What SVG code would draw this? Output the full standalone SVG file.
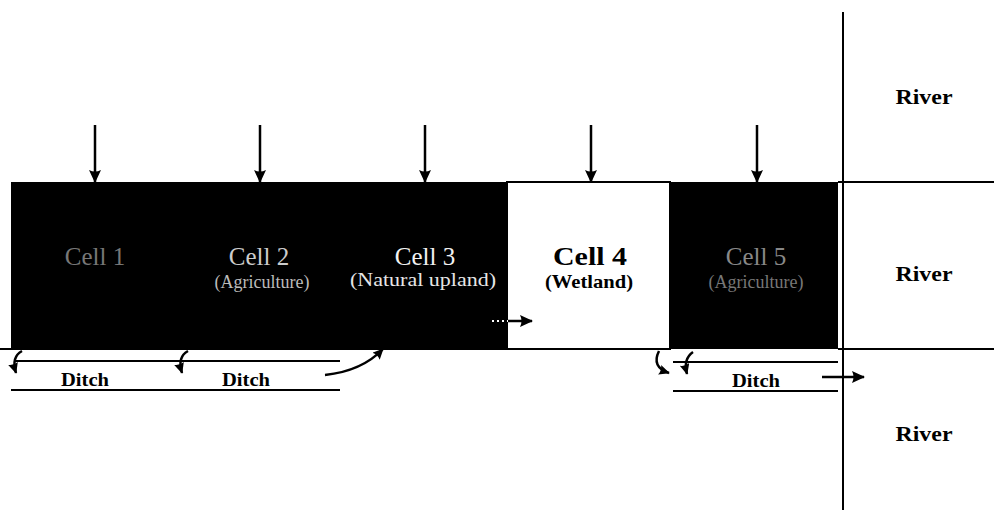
<svg xmlns="http://www.w3.org/2000/svg" width="994" height="513" viewBox="0 0 994 513">
<defs>
<marker id="ah" viewBox="0 0 13 12" refX="12" refY="6" markerWidth="13" markerHeight="12" markerUnits="userSpaceOnUse" orient="auto"><path d="M0,0 L13,6 L0,12 Q3,6 0,0 Z" fill="#000"/></marker>
<marker id="as" viewBox="0 0 13 12" refX="12" refY="6" markerWidth="11" markerHeight="10" markerUnits="userSpaceOnUse" orient="auto"><path d="M0,0 L13,6 L0,12 Q3,6 0,0 Z" fill="#000"/></marker>
</defs>
<style>
.lbl{font-family:"Liberation Serif",serif;text-anchor:middle}
.b{font-weight:bold}
.ln{stroke:#000;stroke-width:2;fill:none}
.ar{stroke:#000;stroke-width:2.5;fill:none;marker-end:url(#ah)}
.cr{stroke:#000;stroke-width:2.5;fill:none;marker-end:url(#as)}
.ct{font-size:25px}
.st{font-size:18px}
</style>
<rect width="994" height="513" fill="#fff"/>
<g id="cell1"><rect x="11" y="182" width="166" height="167" fill="#000"/><text class="lbl ct" x="95" y="265" fill="#777">Cell 1</text></g>
<g id="cell2"><rect x="176" y="182" width="167" height="167" fill="#000"/><text class="lbl ct" x="259" y="265" fill="#ccc">Cell 2</text><text class="lbl st" x="262" y="288" fill="#bbb" textLength="95" lengthAdjust="spacingAndGlyphs">(Agriculture)</text></g>
<g id="cell3"><rect x="342" y="182" width="166" height="167" fill="#000"/><text class="lbl ct" x="425" y="265" fill="#f2f2f2">Cell 3</text><text class="lbl st" x="423" y="286" fill="#e6e6e6" textLength="146" lengthAdjust="spacingAndGlyphs">(Natural upland)</text></g>
<g id="cell4"><rect x="507" y="182" width="163" height="167" fill="#fff" stroke="#000" stroke-width="2"/><text class="lbl b" x="590" y="265" font-size="25" textLength="74" lengthAdjust="spacingAndGlyphs">Cell 4</text><text class="lbl b" x="589" y="288" font-size="19" textLength="88" lengthAdjust="spacingAndGlyphs">(Wetland)</text></g>
<g id="cell5"><rect x="670" y="182" width="168" height="167" fill="#000"/><text class="lbl ct" x="756" y="265" fill="#888">Cell 5</text><text class="lbl st" x="756" y="288" fill="#777" textLength="95" lengthAdjust="spacingAndGlyphs">(Agriculture)</text></g>
<g id="river"><text class="lbl b" x="924" y="104" font-size="22" textLength="57" lengthAdjust="spacingAndGlyphs">River</text><text class="lbl b" x="924" y="281" font-size="22" textLength="57" lengthAdjust="spacingAndGlyphs">River</text><text class="lbl b" x="924" y="441" font-size="22" textLength="57" lengthAdjust="spacingAndGlyphs">River</text></g>
<g id="ditches"><text class="lbl b" x="85" y="386" font-size="18" textLength="48" lengthAdjust="spacingAndGlyphs">Ditch</text><text class="lbl b" x="246" y="386" font-size="18" textLength="48" lengthAdjust="spacingAndGlyphs">Ditch</text><text class="lbl b" x="756" y="387" font-size="18" textLength="48" lengthAdjust="spacingAndGlyphs">Ditch</text></g>
<g id="connectors">
<line class="ln" x1="843" y1="12" x2="843" y2="510" stroke-width="3"/>
<line class="ln" x1="838" y1="182" x2="994" y2="182"/>
<line class="ln" x1="838" y1="349" x2="994" y2="349"/>
<line class="ln" x1="0" y1="349" x2="670" y2="349"/>
<line class="ln" x1="14" y1="361" x2="340" y2="361"/>
<line class="ln" x1="11" y1="390" x2="340" y2="390"/>
<line class="ln" x1="673" y1="362" x2="838" y2="362"/>
<line class="ln" x1="673" y1="391" x2="838" y2="391"/>
<line class="ar" x1="95" y1="125" x2="95" y2="182"/>
<line class="ar" x1="260" y1="125" x2="260" y2="182"/>
<line class="ar" x1="425" y1="125" x2="425" y2="182"/>
<line class="ar" x1="591" y1="125" x2="591" y2="182"/>
<line class="ar" x1="757" y1="125" x2="757" y2="182"/>
<path class="cr" d="M22,351 Q11,357 16,373"/>
<path class="cr" d="M188,351 Q177,357 182,373"/>
<path class="cr" d="M325,375 Q362,371 383,349"/>
<path class="cr" d="M659,351 Q651,367 669,373"/>
<path class="cr" d="M693,352 Q683,359 687,374"/>
<line class="ar" x1="822" y1="377" x2="864" y2="377"/>
<line x1="492" y1="321" x2="508" y2="321" stroke="#fff" stroke-width="2" stroke-dasharray="2 3"/>
<line class="ar" x1="508" y1="321" x2="532" y2="321"/>
</g>
</svg>
